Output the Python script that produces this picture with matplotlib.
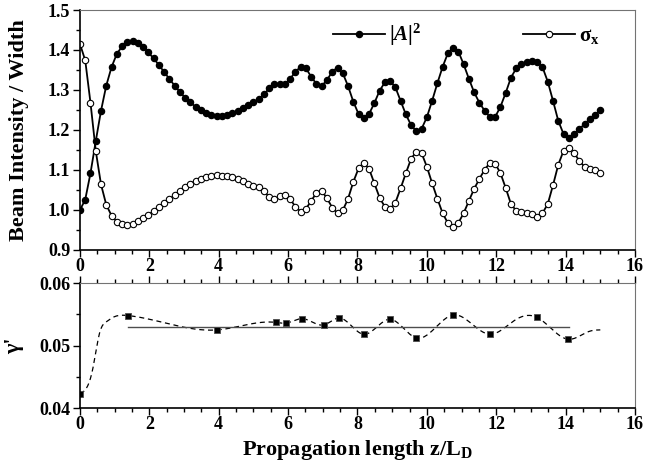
import numpy as np
import matplotlib
matplotlib.use("Agg")
import matplotlib.pyplot as plt
from matplotlib.ticker import MultipleLocator

plt.rcParams['font.family'] = ['Liberation Serif', 'DejaVu Serif']
plt.rcParams['font.weight'] = 'bold'
plt.rcParams['mathtext.fontset'] = 'custom'
plt.rcParams['mathtext.rm'] = 'Liberation Serif:bold'
plt.rcParams['mathtext.it'] = 'Liberation Serif:bold:italic'
plt.rcParams['mathtext.bf'] = 'Liberation Serif:bold'

# propagation distance, 100 samples from 0 to 15
z = np.linspace(0, 15, 100)

# peak intensity |A|^2
intensity = [1.000, 1.026, 1.092, 1.172, 1.248, 1.311, 1.357, 1.390, 1.409, 1.420,
             1.422, 1.418, 1.408, 1.394, 1.379, 1.363, 1.345, 1.328, 1.311, 1.295,
             1.281, 1.269, 1.258, 1.249, 1.243, 1.238, 1.235, 1.235, 1.238, 1.243,
             1.248, 1.255, 1.263, 1.270, 1.277, 1.289, 1.304, 1.314, 1.314, 1.314,
             1.328, 1.346, 1.358, 1.354, 1.333, 1.315, 1.310, 1.325, 1.346, 1.356,
             1.342, 1.310, 1.271, 1.240, 1.229, 1.240, 1.267, 1.298, 1.319, 1.323,
             1.307, 1.273, 1.239, 1.212, 1.197, 1.203, 1.232, 1.273, 1.317, 1.358,
             1.392, 1.406, 1.396, 1.364, 1.328, 1.294, 1.268, 1.248, 1.232, 1.233,
             1.258, 1.293, 1.331, 1.354, 1.364, 1.369, 1.372, 1.370, 1.357, 1.321,
             1.273, 1.223, 1.190, 1.179, 1.189, 1.202, 1.215, 1.227, 1.238, 1.249]

# beam width sigma_x
width = [1.415, 1.374, 1.268, 1.148, 1.064, 1.013, 0.986, 0.971, 0.964, 0.963,
         0.966, 0.972, 0.979, 0.988, 0.997, 1.007, 1.017, 1.027, 1.037, 1.048,
         1.057, 1.065, 1.073, 1.078, 1.083, 1.086, 1.087, 1.086, 1.084, 1.082,
         1.078, 1.073, 1.065, 1.061, 1.058, 1.048, 1.032, 1.027, 1.034, 1.037,
         1.027, 1.008, 0.996, 1.003, 1.023, 1.043, 1.048, 1.029, 1.006, 0.992,
         0.999, 1.028, 1.070, 1.104, 1.118, 1.103, 1.067, 1.031, 1.008, 1.002,
         1.018, 1.054, 1.092, 1.128, 1.146, 1.142, 1.108, 1.067, 1.028, 0.992,
         0.967, 0.958, 0.968, 0.992, 1.023, 1.053, 1.078, 1.101, 1.118, 1.116,
         1.092, 1.055, 1.015, 0.998, 0.994, 0.992, 0.989, 0.983, 0.992, 1.015,
         1.062, 1.113, 1.148, 1.156, 1.143, 1.123, 1.108, 1.102, 1.100, 1.092]

# gamma' at the extrema
z_gamma = [0.0, 1.37, 3.96, 5.65, 5.95, 6.41, 7.03, 7.48, 8.18, 8.93, 9.70,
           10.76, 11.82, 13.18, 14.08]
gamma = [0.0423, 0.0548, 0.0525, 0.0537, 0.0536, 0.0543, 0.0533, 0.0544, 0.0518,
         0.0542, 0.0512, 0.0549, 0.0518, 0.0545, 0.0510]

# dashed guide curve nodes
z_guide = [0.0, 0.37, 0.56, 0.76, 0.95, 1.37, 3.96, 5.65, 5.95, 6.41, 7.03, 7.48,
           8.18, 8.93, 9.70, 10.76, 11.82, 12.55, 13.18, 14.08, 14.7, 15.0]
guide = [0.0423, 0.0463, 0.0519, 0.0538, 0.0545, 0.0548, 0.0525, 0.0537, 0.0536,
         0.0543, 0.0533, 0.0544, 0.0518, 0.0542, 0.0512, 0.0549, 0.0518, 0.0541,
         0.0545, 0.0510, 0.0523, 0.0525]

gamma_mean = 0.0530
mean_range = [1.37, 14.1]


def natural_spline(x, y, xs):
    x = np.asarray(x, float)
    y = np.asarray(y, float)
    n = len(x)
    h = np.diff(x)
    A = np.zeros((n, n))
    d = np.zeros(n)
    A[0, 0] = A[-1, -1] = 1
    for i in range(1, n - 1):
        A[i, i - 1] = h[i - 1]
        A[i, i] = 2 * (h[i - 1] + h[i])
        A[i, i + 1] = h[i]
        d[i] = 6 * ((y[i + 1] - y[i]) / h[i] - (y[i] - y[i - 1]) / h[i - 1])
    M = np.linalg.solve(A, d)
    k = np.clip(np.searchsorted(x, xs) - 1, 0, n - 2)
    hk = h[k]
    a = x[k + 1] - xs
    b = xs - x[k]
    return (M[k] * a ** 3 / (6 * hk) + M[k + 1] * b ** 3 / (6 * hk)
            + (y[k] / hk - M[k] * hk / 6) * a + (y[k + 1] / hk - M[k + 1] * hk / 6) * b)


fig = plt.figure(figsize=(6.45, 4.74), dpi=100)
ax1 = fig.add_axes([0.124, 0.4726, 0.8605, 0.5063])
ax2 = fig.add_axes([0.124, 0.1392, 0.8605, 0.2637])

ax1.plot(z, intensity, '-o', color='black', lw=1.3, ms=4.4, mfc='black', mec='black',
         label=r'$|A|^2$')
ax1.plot(z, width, '-o', color='black', lw=1.3, ms=4.6, mfc='white', mec='black',
         mew=0.8, label=r'$\mathrm{\sigma}_\mathrm{x}$')
ax1.set_xlim(0, 16)
ax1.set_ylim(0.9, 1.5)
ax1.set_yticks([0.9, 1.0, 1.1, 1.2, 1.3, 1.4, 1.5])
ax1.set_yticklabels(['0.9', '1.0', '1.1', '1.2', '1.3', '1.4', '1.5'])
ax1.set_ylabel('Beam Intensity / Width', fontsize=16, fontweight='bold')
ax1.yaxis.set_label_coords(-0.092, 0.5)
ax1.legend(loc='upper left', bbox_to_anchor=(0.44, 0.985), ncol=2, frameon=False,
           fontsize=15, handlelength=2.5, handletextpad=0.2, columnspacing=4.9,
           borderaxespad=0)

zs = np.linspace(0, 15, 400)
ax2.plot(zs, natural_spline(z_guide, guide, zs), '--', color='black', lw=0.9,
         dashes=(4, 3))
ax2.plot(mean_range, [gamma_mean, gamma_mean], '-', color='0.3', lw=1.0)
ax2.plot(z_gamma, gamma, 's', color='black', ms=4.4, mec='0.3', mew=0.6)
ax2.set_xlim(0, 16)
ax2.set_ylim(0.04, 0.06)
ax2.set_yticks([0.04, 0.05, 0.06])
ax2.set_yticklabels(['0.04', '0.05', '0.06'])
ax2.set_ylabel("γ'", fontsize=16, fontweight='bold')
ax2.yaxis.set_label_coords(-0.1, 0.5)
ax2.set_xlabel(r'Propagation length z/L$_\mathrm{D}$', fontsize=16, fontweight='bold',
               labelpad=3)

for ax in (ax1, ax2):
    ax.xaxis.set_major_locator(MultipleLocator(2))
    ax.xaxis.set_minor_locator(MultipleLocator(0.5))
    ax.yaxis.set_minor_locator(MultipleLocator(0.05 if ax is ax1 else 0.005))
    ax.tick_params(which='both', direction='out', labelsize=13, width=1.0)
    ax.tick_params(which='major', length=5)
    ax.tick_params(which='minor', length=3)
    for lab in ax.get_xticklabels() + ax.get_yticklabels():
        lab.set_fontweight('bold')
    ax.spines['left'].set_linewidth(1.2)
    ax.spines['bottom'].set_linewidth(1.2)
    ax.spines['top'].set_color('0.45')
    ax.spines['right'].set_color('0.45')

ax2.tick_params(axis='x', which='both', top=True)
ax1.tick_params(axis='x', pad=1)
ax2.tick_params(axis='x', pad=1)
ax1.tick_params(axis='y', pad=2)
ax2.tick_params(axis='y', pad=2)

fig.savefig('out.png', dpi=100)
